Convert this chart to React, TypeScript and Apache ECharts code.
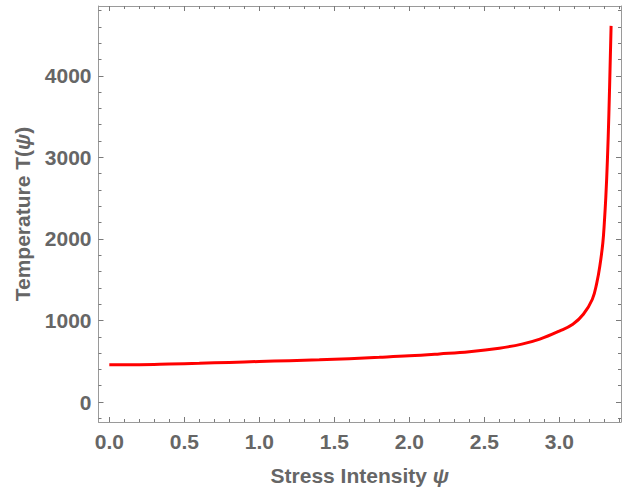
import React, { useEffect, useRef } from "react";
import * as echarts from "echarts";

const psi = [0, 0.2, 0.4, 0.6, 0.8, 1.0, 1.2, 1.4, 1.6, 1.8, 2.0, 2.2, 2.4, 2.6, 2.75, 2.87, 3.0, 3.09, 3.16, 3.22, 3.25, 3.27, 3.29, 3.3, 3.31, 3.32, 3.33, 3.345];
const temperature = [456, 458, 466, 475, 486, 497, 507, 517, 532, 548, 566, 590, 617, 660, 710, 771, 870, 954, 1076, 1260, 1464, 1667, 1953, 2200, 2520, 2950, 3520, 4612];

const xMajor = [0, 0.5, 1.0, 1.5, 2.0, 2.5, 3.0];
const xMinor = [0.1, 0.2, 0.3, 0.4, 0.6, 0.7, 0.8, 0.9, 1.1, 1.2, 1.3, 1.4, 1.6, 1.7, 1.8, 1.9, 2.1, 2.2, 2.3, 2.4, 2.6, 2.7, 2.8, 2.9, 3.1, 3.2, 3.3, 3.4];
const yMajor = [0, 1000, 2000, 3000, 4000];
const yMinor = [-200, 200, 400, 600, 800, 1200, 1400, 1600, 1800, 2200, 2400, 2600, 2800, 3200, 3400, 3600, 3800, 4200, 4400, 4600, 4800];

const X_MIN = -0.072;
const X_MAX = 3.411;
const Y_MIN = -245;
const Y_MAX = 4856;

const FRAME = "#9a9a9a";
const TICK = "#7a7a7a";
const LABEL = "#666666";
const FONT = "'Liberation Sans', Arial, sans-serif";

export default function App() {
  const ref = useRef<HTMLDivElement>(null);
  useEffect(() => {
    if (!ref.current) return;
    const chart = echarts.init(ref.current, undefined, { renderer: "svg" });
    const labelStyle = { color: LABEL, fontFamily: FONT, fontWeight: "bold", fontSize: 21 };
    const titleStyle = { ...labelStyle, fontSize: 21 };
    const mkX = (pos: string, major: boolean, primary: boolean) => ({
      type: "value",
      position: pos,
      min: X_MIN,
      max: X_MAX,
      axisLine: { show: major, onZero: false, lineStyle: { color: FRAME, width: 1 } },
      axisTick: { show: true, inside: true, length: major ? 5 : 3, customValues: major ? xMajor : xMinor, lineStyle: { color: TICK, width: 1 } },
      axisLabel: primary
        ? { show: true, customValues: xMajor, margin: 9, formatter: (v: number) => v.toFixed(1), ...labelStyle }
        : { show: false },
      splitLine: { show: false },
      ...(primary
        ? {
            name: "Stress Intensity {i|ψ}",
            nameLocation: "middle",
            nameGap: 43,
            nameTextStyle: { ...titleStyle, rich: { i: { ...titleStyle, fontStyle: "italic" } } },
          }
        : {}),
    });
    const mkY = (pos: string, major: boolean, primary: boolean) => ({
      type: "value",
      position: pos,
      min: Y_MIN,
      max: Y_MAX,
      axisLine: { show: major, onZero: false, lineStyle: { color: FRAME, width: 1 } },
      axisTick: { show: true, inside: true, length: major ? 5 : 3, customValues: major ? yMajor : yMinor, lineStyle: { color: TICK, width: 1 } },
      axisLabel: primary
        ? { show: true, customValues: yMajor, margin: 7, formatter: (v: number) => String(v), ...labelStyle }
        : { show: false },
      splitLine: { show: false },
      ...(primary
        ? {
            name: "Temperature T({i|ψ})",
            nameLocation: "middle",
            nameGap: 66,
            nameRotate: 90,
            nameTextStyle: { ...titleStyle, rich: { i: { ...titleStyle, fontStyle: "italic" } } },
          }
        : {}),
    });
    chart.setOption({
      animation: false,
      backgroundColor: "#ffffff",
      grid: { left: 98.5, right: 3, top: 6, bottom: 68, containLabel: false },
      xAxis: [mkX("bottom", true, true), mkX("bottom", false, false), mkX("top", true, false), mkX("top", false, false)],
      yAxis: [mkY("left", true, true), mkY("left", false, false), mkY("right", true, false), mkY("right", false, false)],
      series: [
        {
          type: "line",
          xAxisIndex: 0,
          yAxisIndex: 0,
          data: psi.map((x, i) => [x, temperature[i]]),
          showSymbol: false,
          smooth: 0.4,
          lineStyle: { color: "#ff0000", width: 3 },
          itemStyle: { color: "#ff0000" },
        },
      ],
    });
    return () => chart.dispose();
  }, []);
  return <div ref={ref} style={{ width: 624, height: 491, position: "absolute", left: 0, top: 0 }} />;
}
